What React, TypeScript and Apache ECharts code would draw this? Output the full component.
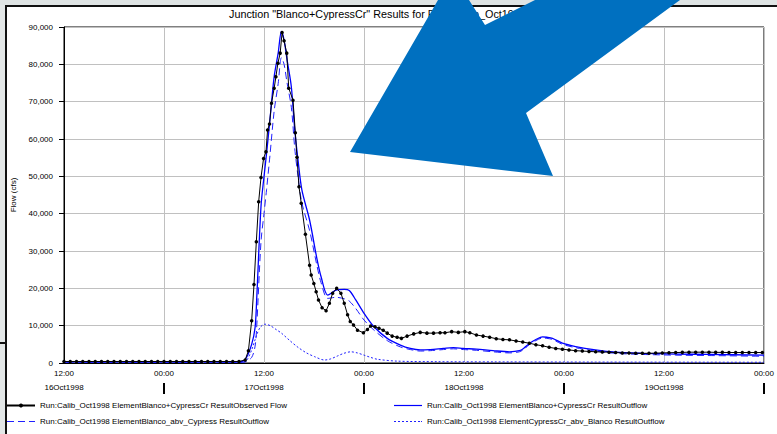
import React, { useEffect, useRef } from "react";
import * as echarts from "echarts";

// Hours are counted from 16Oct1998 12:00.
const obsHours = [
  0, 0.75, 1.5, 2.25, 3, 3.75, 4.5, 5.25, 6, 6.75, 7.5, 8.25, 9, 9.75, 10.5, 11.25, 12, 12.75, 13.5, 14.25,
  15, 15.75, 16.5, 17.25, 18, 18.75, 19.5, 20.25, 21,
  21.74, 22.13, 22.52, 22.8, 23.08, 23.36, 23.64, 23.95, 24.24, 24.43,
  24.66, 24.9, 25.22, 25.43, 25.67, 25.94, 26.17, 26.41, 26.73, 26.97,
  27.48, 27.76, 27.96, 28.2, 28.47, 28.97, 29.47, 29.66, 29.98, 30.26,
  30.54, 30.97, 31.45, 31.85, 32.24, 32.72, 33.23, 33.63, 34.03, 34.35,
  34.74, 35.22, 35.93, 36.41, 36.8, 37.32, 37.8, 38.31, 38.79, 39.38,
  39.98, 40.49, 41.17, 41.96, 42.75, 43.55, 44.34, 45.13, 45.72, 46.52,
  47.32, 48.1, 48.7, 49.49, 50.29, 51.08, 51.87, 52.67, 53.46, 54.25,
  55.05, 55.84, 56.63, 57.43, 58.22, 59.01, 59.81, 60.6, 61.39,
  62.2, 63.0, 63.8, 64.6, 65.4, 66.2, 67.0, 67.8, 68.6, 69.4, 70.2, 71.0, 71.8, 72.6,
  73.4, 74.2, 75.0, 75.8, 76.6, 77.4, 78.2, 79.0, 79.8, 80.6, 81.4, 82.2, 83.0, 83.8,
];
const obsFlow = [
  400, 400, 400, 400, 400, 400, 400, 400, 400, 400, 400, 400, 400, 400, 400, 400, 400, 400, 400, 400,
  400, 400, 400, 400, 400, 400, 400, 400, 400,
  800, 3300, 11300, 21000, 32500, 43200, 49700, 54800, 56600, 62400,
  64000, 69600, 73600, 76700, 80300, 83000, 88500, 86300, 83000, 73600,
  70400, 61700, 55100, 47200, 42800, 34500, 26200, 23600, 21300, 19100,
  16900, 14800, 14000, 16000, 18700, 20000, 18700, 16000, 12900, 11100,
  10200, 8800, 8100, 9000, 9900, 9700, 9300, 8800, 8000, 7200,
  6900, 6600, 7200, 7800, 8200, 8000, 8000, 8100, 8100, 8400,
  8200, 8400, 8100, 7500, 7200, 6900, 6500, 6300, 6200, 5900,
  5600, 5300, 4900, 4600, 4200, 3900, 3700, 3500, 3300,
  3200, 3100, 3000, 2950, 2900, 2800, 2700, 2650, 2600, 2600, 2600, 2650, 2700, 2750,
  2800, 2850, 2900, 2900, 2900, 2900, 2850, 2850, 2800, 2800, 2800, 2800, 2800, 2800,
];

const simHours = [
  0, 21, 21.74, 22.52, 22.93, 23.12, 23.64, 24.0, 24.31, 24.71,
  25.22, 25.7, 26.09, 26.41, 26.77, 27.28, 27.69, 28.08, 28.55, 29.47,
  30.38, 30.85, 31.65, 32.64, 33.63, 34.23, 35.01, 36.01, 37.2, 38.79,
  40.37, 41.56, 42.75, 43.94, 45.53, 46.72, 47.91, 49.49, 51.48, 53.46,
  54.65, 55.2, 55.84, 56.63, 57.43, 57.94, 58.62, 59.81, 61.39, 63.77,
  66.15, 69.33, 73.37, 77.25, 84,
];
const junctionOutflow = [
  350, 350, 900, 5000, 9500, 16900, 41900, 49900, 56200, 65100,
  76700, 83000, 88800, 86500, 81200, 74000, 62400, 54400, 46300, 38300,
  27600, 23100, 18200, 19500, 19700, 19400, 16900, 13300, 9700, 6600,
  4800, 3900, 3500, 3600, 3900, 4100, 3900, 3700, 3300, 3000,
  3300, 4000, 5200, 6300, 7000, 6900, 6600, 5300, 4400, 3500,
  2900, 2600, 2400, 2300, 2100,
];
const blancoOutflow = [
  150, 150, 300, 1500, 4500, 9500, 32500, 40000, 46500, 55500,
  67500, 74800, 81800, 80000, 75000, 68500, 57500, 50000, 42800, 35500,
  25800, 21500, 17300, 17600, 17200, 16600, 14600, 11500, 8800, 6000,
  4300, 3600, 3200, 3300, 3600, 3800, 3600, 3400, 3000, 2700,
  3000, 3700, 4900, 6000, 6700, 6600, 6300, 5000, 4100, 3200,
  2600, 2300, 2100, 2000, 1800,
];

const cypressHours = [
  0, 21.5, 21.93, 22.52, 23.12, 23.56, 24.12, 24.75, 25.5, 26.09,
  27.1, 28.08, 29.1, 30.07, 31.26, 32.0, 32.84, 33.6, 34.42, 35.2,
  36.01, 36.8, 37.6, 39.98, 44.74, 51.87, 63.77, 84,
];
const cypressOutflow = [
  200, 200, 700, 3500, 7500, 9600, 10400, 10000, 8900, 8000,
  6000, 4200, 2700, 1700, 800, 1100, 1900, 2600, 3000, 2700,
  2100, 1500, 1000, 500, 350, 300, 250, 200,
];

const yTicks = { min: 0, max: 90000, step: 10000 };
const timeTicks = { min: 0, max: 84, step: 12 };
const dayBoundaries = [12, 36, 60, 84];
const dayNoons = [0, 24, 48, 72];
const dayLabels = ["16Oct1998", "17Oct1998", "18Oct1998", "19Oct1998"];

const NAME_OBS = "Run:Calib_Oct1998 ElementBlanco+CypressCr ResultObserved Flow";
const NAME_OUT = "Run:Calib_Oct1998 ElementBlanco+CypressCr ResultOutflow";
const NAME_BLANCO = "Run:Calib_Oct1998 ElementBlanco_abv_Cypress ResultOutflow";
const NAME_CYPRESS = "Run:Calib_Oct1998 ElementCypressCr_abv_Blanco ResultOutflow";

// Legend keys drawn as filled strips so the dash patterns stay crisp.
const ICON_SOLID = "path://M0,0H28V1.2H0Z";
const ICON_LONG_DASH = "path://M0,0H7V1H0Z M11,0H18V1H11Z M22,0H28V1H22Z";
const ICON_SHORT_DASH =
  "path://M0,0H2V1H0Z M4,0H6V1H4Z M8,0H10V1H8Z M12,0H14V1H12Z M16,0H18V1H16Z M20,0H22V1H20Z M24,0H26V1H24Z M27,0H28V1H27Z";

const FONT = "'Liberation Sans', Arial, sans-serif";

const pairs = (xs: number[], ys: number[]) => xs.map((x, i) => [x, ys[i]]);

export default function App() {
  const ref = useRef<HTMLDivElement>(null);

  useEffect(() => {
    document.body.style.margin = "0";
    if (!ref.current) return;
    const chart = echarts.init(ref.current, undefined, { renderer: "svg" });
    const labelStyle = { color: "#000", fontSize: 8, fontFamily: FONT };

    chart.setOption({
      animation: false,
      backgroundColor: "#fff",
      title: {
        text: 'Junction "Blanco+CypressCr" Results for Run "Calib_Oct1998"',
        left: 229,
        top: 8,
        padding: 0,
        textStyle: { color: "#000", fontSize: 10.8, fontWeight: "normal", fontFamily: FONT },
      },
      grid: {
        left: 64,
        right: 7,
        top: 27,
        bottom: 71,
        show: true,
        borderColor: "#000",
        borderWidth: 1,
        backgroundColor: "transparent",
      },
      xAxis: [
        {
          type: "value",
          min: timeTicks.min,
          max: timeTicks.max,
          interval: timeTicks.step,
          axisLine: { lineStyle: { color: "#000", width: 1 } },
          axisTick: { show: false },
          splitLine: { show: true, lineStyle: { color: "#c0c0c0", width: 1 } },
          axisLabel: {
            ...labelStyle,
            margin: 6,
            formatter: (v: number) => (v % 24 === 0 ? "12:00" : "00:00"),
          },
        },
        {
          type: "value",
          min: timeTicks.min,
          max: timeTicks.max,
          interval: timeTicks.step,
          position: "bottom",
          offset: 20,
          axisLine: { show: false },
          splitLine: { show: false },
          axisTick: {
            show: true,
            customValues: dayBoundaries,
            length: 11,
            lineStyle: { color: "#000", width: 2 },
          },
          axisLabel: {
            ...labelStyle,
            margin: 0,
            customValues: dayNoons,
            formatter: (v: number) => dayLabels[dayNoons.indexOf(v)] ?? "",
          },
        },
      ],
      yAxis: {
        type: "value",
        min: yTicks.min,
        max: yTicks.max,
        interval: yTicks.step,
        name: "Flow (cfs)",
        nameLocation: "middle",
        nameGap: 43,
        nameTextStyle: labelStyle,
        axisLine: { show: true, lineStyle: { color: "#000", width: 1 } },
        axisTick: { show: true, length: 5, lineStyle: { color: "#000" } },
        splitLine: { show: true, lineStyle: { color: "#c0c0c0", width: 1 } },
        axisLabel: {
          ...labelStyle,
          margin: 11,
          formatter: (v: number) => v.toLocaleString("en-US"),
        },
      },
      legend: [
        {
          left: 6,
          top: 401.5,
          orient: "vertical",
          itemGap: 8,
          itemWidth: 28,
          itemHeight: 5,
          padding: 0,
          itemStyle: { borderWidth: 0 },
          textStyle: labelStyle,
          data: [{ name: NAME_OBS }, { name: NAME_BLANCO, icon: ICON_LONG_DASH }],
        },
        {
          left: 394,
          top: 401.5,
          orient: "vertical",
          itemGap: 8,
          itemWidth: 28,
          itemHeight: 5,
          padding: 0,
          itemStyle: { borderWidth: 0 },
          textStyle: labelStyle,
          data: [
            { name: NAME_OUT, icon: ICON_SOLID },
            { name: NAME_CYPRESS, icon: ICON_SHORT_DASH },
          ],
        },
      ],
      series: [
        {
          name: NAME_CYPRESS,
          type: "line",
          data: pairs(cypressHours, cypressOutflow),
          smooth: 0.3,
          symbol: "none",
          color: "#2020ff",
          lineStyle: { width: 1, type: [2, 2] },
        },
        {
          name: NAME_BLANCO,
          type: "line",
          data: pairs(simHours, blancoOutflow),
          smooth: 0.3,
          symbol: "none",
          color: "#2020ff",
          lineStyle: { width: 1, type: [7, 4] },
        },
        {
          name: NAME_OUT,
          type: "line",
          data: pairs(simHours, junctionOutflow),
          smooth: 0.3,
          symbol: "none",
          color: "#0000ff",
          lineStyle: { width: 1.3 },
        },
        {
          name: NAME_OBS,
          type: "line",
          data: pairs(obsHours, obsFlow),
          symbol: "circle",
          symbolSize: 3.5,
          showSymbol: true,
          color: "#000",
          lineStyle: { width: 1, color: "#000" },
          itemStyle: { color: "#000" },
        },
      ],
      graphic: [
        { type: "rect", shape: { x: 0, y: 0, width: 5, height: 434 }, style: { fill: "#e3e7e7" }, z: 50 },
        { type: "rect", shape: { x: 0, y: 0, width: 777, height: 5 }, style: { fill: "#dfe4e4" }, z: 50 },
        { type: "rect", shape: { x: 5, y: 5, width: 772, height: 2 }, style: { fill: "#111" }, z: 51 },
        { type: "rect", shape: { x: 5, y: 5, width: 2, height: 429 }, style: { fill: "#111" }, z: 51 },
        { type: "rect", shape: { x: 0, y: 342, width: 7, height: 2 }, style: { fill: "#111" }, z: 51 },
        {
          type: "polygon",
          z: 100,
          shape: {
            points: [
              [350, 152],
              [553, 176],
              [526, 113],
              [680, 0],
              [535, 0],
              [485, 25],
              [469, 0],
              [438, 0],
            ],
          },
          style: { fill: "#0070c0" },
        },
      ],
    });

    return () => chart.dispose();
  }, []);

  return (
    <div
      ref={ref}
      style={{ position: "fixed", left: 0, top: 0, width: 777, height: 434 }}
    />
  );
}
